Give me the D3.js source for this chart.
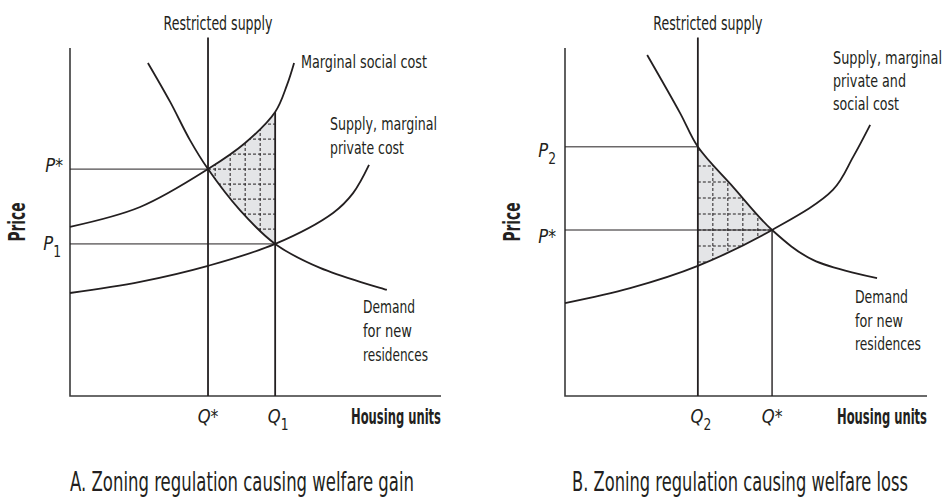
<!DOCTYPE html>
<html>
<head>
<meta charset="utf-8">
<script src="https://cdn.jsdelivr.net/npm/d3@7"></script>
<style>
  body { margin: 0; background: #fff; }
  svg text { font-family: 'DejaVu Sans', sans-serif; fill: #231f20; }
</style>
</head>
<body>
<svg id="chart" width="946" height="497"></svg>
<script>
// curve points, in axis units (0-100 on both axes)
const demandA = [[21.0, 95.7], [27.0, 84.5], [32.3, 73.6], [37.2, 65.2], [45.8, 53.4], [55.3, 43.7], [67.4, 36.8], [85.4, 30.5]];
const socialCostA = [[0, 48.6], [18.9, 54.3], [37.2, 65.2], [47.2, 72.7], [55.3, 81.6], [58.5, 89.4], [60.4, 95.7]];
const privateCostA = [[0, 29.6], [18.9, 32.8], [37.2, 37.4], [55.3, 43.7], [70.9, 52.6], [76.3, 58.3], [80.6, 66.4]];

const demandB = [[22.7, 98.0], [31.8, 81.3], [36.7, 71.6], [46.4, 60.1], [57.2, 47.7], [68.5, 39.1], [86.2, 33.9]];
const supplyB = [[0, 26.7], [18.0, 31.0], [36.7, 37.4], [57.2, 47.7], [74.0, 59.2], [79.6, 68.7], [84.3, 77.9]];

// quantities and prices marked on the axes
const qA = { star: 37.2, one: 55.3 };
const pA = { star: 65.2, one: 43.7, top: 81.6 };
const qB = { two: 36.7, star: 57.2 };
const pB = { two: 71.6, star: 47.7 };

const titles = ['A. Zoning regulation causing welfare gain', 'B. Zoning regulation causing welfare loss'];
const labelsA = { demand: ['Demand', 'for new', 'residences'], social: ['Marginal social cost'], supply: ['Supply, marginal', 'private cost'] };
const labelsB = { demand: ['Demand', 'for new', 'residences'], supply: ['Supply, marginal', 'private and', 'social cost'] };

const svg = d3.select('#chart');
const defs = svg.append('defs');
const ink = '#231f20';
const squeeze = 0.72; // the original face is a condensed one

const line = (x, y) => d3.line(d => x(d[0]), d => y(d[1])).curve(d3.curveCatmullRom.alpha(0.5));

// narrow a text to mimic the condensed typeface
function narrow(t, k, width) {
  const n = t.node();
  const w = width || n.getComputedTextLength() * k;
  t.attr('textLength', w).attr('lengthAdjust', 'spacingAndGlyphs');
  return t;
}

function frame(x, y) {
  const g = svg.append('g');
  g.append('path')
    .attr('d', `M${x(0)},${y(100)}V${y(0)}H${x(100)}`)
    .attr('fill', 'none')
    .attr('stroke', '#3a3a3a')
    .attr('stroke-width', 1.6);
  return g;
}

function curve(g, x, y, pts) {
  g.append('path')
    .attr('d', line(x, y)(pts))
    .attr('fill', 'none')
    .attr('stroke', ink)
    .attr('stroke-width', 1.8);
}

function vline(g, x, y, q, top, w) {
  g.append('line')
    .attr('x1', x(q)).attr('x2', x(q))
    .attr('y1', y(0)).attr('y2', y(top))
    .attr('stroke', ink).attr('stroke-width', w);
}

function hline(g, x, y, q, p) {
  g.append('line')
    .attr('x1', x(0)).attr('x2', x(q))
    .attr('y1', y(p)).attr('y2', y(p))
    .attr('stroke', ink).attr('stroke-width', 1);
}

// region on one side of a curve: 'up' keeps higher prices, 'down' lower
function sideClip(id, x, y, pts, side) {
  const edge = side === 'up' ? y(120) : y(-20);
  const area = d3.area()
    .x(d => x(d[0]))
    .y0(edge)
    .y1(d => y(d[1]))
    .curve(d3.curveCatmullRom.alpha(0.5));
  defs.append('clipPath').attr('id', id).append('path').attr('d', area(pts));
  return `url(#${id})`;
}

function hatch(g, x, y, q0, q1, clipA, clipB, vAnchor, hAnchor, dx, dy) {
  const outer = g.append('g').attr('clip-path', clipA);
  const inner = outer.append('g').attr('clip-path', clipB);
  const x0 = x(q0), x1 = x(q1);
  inner.append('rect')
    .attr('x', x0).attr('y', y(100))
    .attr('width', x1 - x0).attr('height', y(0) - y(100))
    .attr('fill', '#e4e5e7');
  const xs = [];
  for (let v = vAnchor + dx; v > x0 && v < x1; v += dx) xs.push(v);
  for (let v = vAnchor - dx; v > x0 && v < x1; v -= dx) xs.push(v);
  if (vAnchor > x0 && vAnchor < x1) xs.push(vAnchor);
  const ys = [];
  for (let v = hAnchor; v > y(100); v -= dy) ys.push(v);
  for (let v = hAnchor + dy; v < y(0); v += dy) ys.push(v);
  inner.selectAll('line.v').data(xs).join('line')
    .attr('x1', d => d).attr('x2', d => d)
    .attr('y1', y(100)).attr('y2', y(0))
    .attr('stroke', ink).attr('stroke-width', 1).attr('stroke-dasharray', '3,2');
  inner.selectAll('line.h').data(ys).join('line')
    .attr('x1', x0).attr('x2', x1)
    .attr('y1', d => d).attr('y2', d => d)
    .attr('stroke', ink).attr('stroke-width', 1).attr('stroke-dasharray', '3,2');
}

function textLines(g, lines, x, y0, step, widths) {
  lines.forEach((s, i) => {
    const t = g.append('text')
      .attr('x', x).attr('y', y0 + i * step)
      .attr('font-size', 18.5)
      .text(s);
    narrow(t, squeeze, widths[i]);
  });
}

function sym(g, x, y, letter, sub, anchor) {
  const t = g.append('text')
    .attr('x', x).attr('y', y)
    .attr('font-size', 20)
    .attr('font-style', 'italic')
    .attr('text-anchor', anchor);
  t.append('tspan').text(letter);
  if (sub === '*') t.append('tspan').attr('font-style', 'normal').attr('font-size', 19).text('*');
  else t.append('tspan').attr('font-size', 15).attr('font-style', 'normal').attr('dy', 7).text(sub);
  narrow(t, 0.82);
}

function common(g, x, y, title, titleX, titleW, restrictedQ) {
  narrow(g.append('text')
    .attr('x', x(restrictedQ) + 10).attr('y', 30)
    .attr('text-anchor', 'middle')
    .attr('font-size', 20)
    .text('Restricted supply'), squeeze, 109);
  narrow(g.append('text')
    .attr('transform', `translate(${x(0) - 45},${y(50)}) rotate(-90)`)
    .attr('text-anchor', 'middle')
    .attr('font-size', 23)
    .attr('font-weight', 'bold')
    .text('Price'), squeeze, 39);
  narrow(g.append('text')
    .attr('x', x(100)).attr('y', 424)
    .attr('text-anchor', 'end')
    .attr('font-size', 21)
    .attr('font-weight', 'bold')
    .text('Housing units'), squeeze, 90);
  narrow(g.append('text')
    .attr('x', titleX).attr('y', 491)
    .attr('font-size', 27)
    .text(title), squeeze, titleW);
}

// ---- panel A
{
  const x = d3.scaleLinear().domain([0, 100]).range([70, 441]);
  const y = d3.scaleLinear().domain([0, 100]).range([396, 48]);
  const g = frame(x, y);

  hatch(g, x, y, qA.star, qA.one,
    sideClip('a-below-msc', x, y, socialCostA, 'down'),
    sideClip('a-above-dem', x, y, demandA, 'up'),
    x(qA.one), y(pA.star), 15, 15);

  hline(g, x, y, qA.star, pA.star);
  hline(g, x, y, qA.one, pA.one);
  vline(g, x, y, qA.star, 103, 1.8);
  vline(g, x, y, qA.one, pA.top, 1.8);
  curve(g, x, y, demandA);
  curve(g, x, y, socialCostA);
  curve(g, x, y, privateCostA);

  textLines(g, labelsA.social, 301, 68, 24, [126]);
  textLines(g, labelsA.supply, 330, 130, 23.5, [107, 74]);
  textLines(g, labelsA.demand, 363, 313, 24, [52, 49, 65]);

  sym(g, 63, 172, 'P', '*', 'end');
  sym(g, 61, 250, 'P', '1', 'end');
  sym(g, x(qA.star), 423, 'Q', '*', 'middle');
  sym(g, x(qA.one) + 3, 423, 'Q', '1', 'middle');

  common(g, x, y, titles[0], 70, 344, qA.star);
}

// ---- panel B
{
  const x = d3.scaleLinear().domain([0, 100]).range([565, 927]);
  const y = d3.scaleLinear().domain([0, 100]).range([396, 48]);
  const g = frame(x, y);

  hatch(g, x, y, qB.two, qB.star,
    sideClip('b-below-dem', x, y, demandB, 'down'),
    sideClip('b-above-sup', x, y, supplyB, 'up'),
    x(qB.two), y(pB.star), 15, 16);

  hline(g, x, y, qB.two, pB.two);
  hline(g, x, y, qB.star, pB.star);
  vline(g, x, y, qB.two, 103, 1.8);
  vline(g, x, y, qB.star, pB.star, 1.4);
  curve(g, x, y, demandB);
  curve(g, x, y, supplyB);

  textLines(g, labelsB.supply, 833, 64, 23, [109, 73, 66]);
  textLines(g, labelsB.demand, 855, 303, 23.5, [53, 48, 66]);

  sym(g, 556, 157, 'P', '2', 'end');
  sym(g, 556, 243, 'P', '*', 'end');
  sym(g, x(qB.two) + 3, 423, 'Q', '2', 'middle');
  sym(g, x(qB.star), 423, 'Q', '*', 'middle');

  common(g, x, y, titles[1], 572, 336, qB.two);
}
</script>
</body>
</html>
